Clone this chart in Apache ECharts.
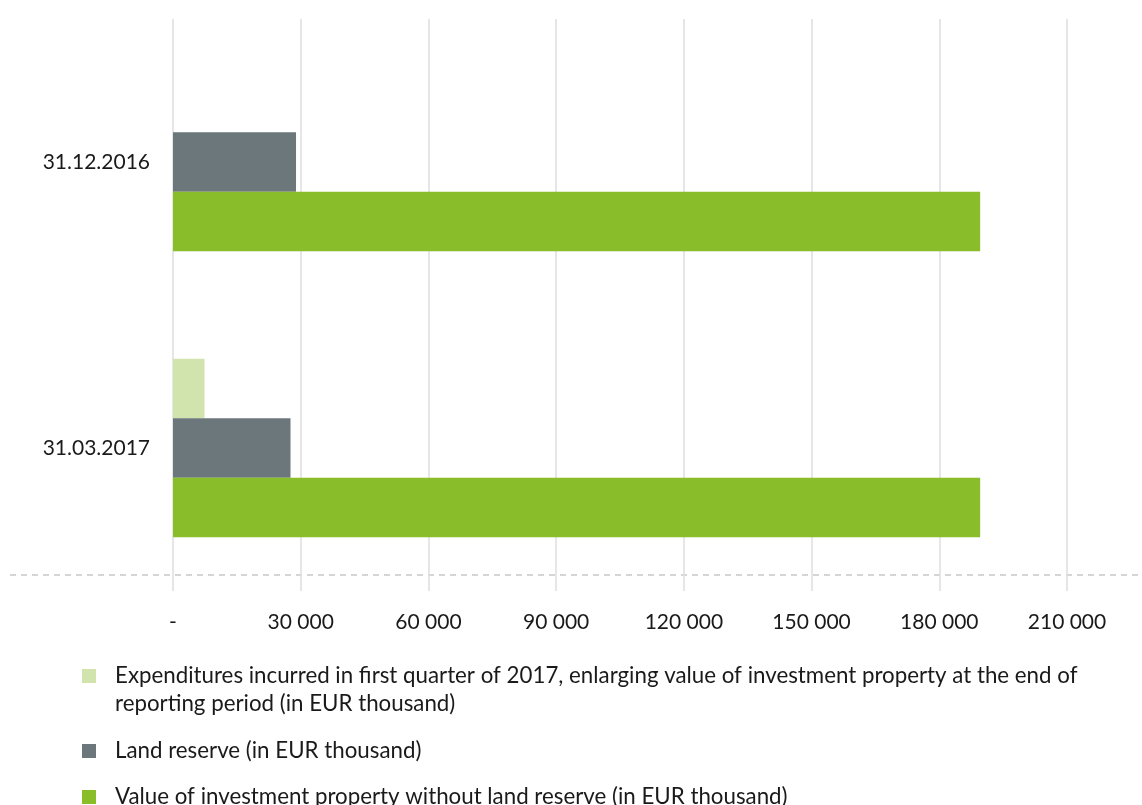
<!DOCTYPE html>
<html>
<head>
<meta charset="utf-8">
<script src="https://cdn.jsdelivr.net/npm/echarts@6/dist/echarts.min.js"></script>
<style>
  html, body { margin: 0; padding: 0; background: #fff; }
  #chart { width: 1142px; height: 805px; }
</style>
</head>
<body>
<div id="chart"></div>
<script>
  // data (EUR thousand)
  var categories = ['31.12.2016', '31.03.2017']
  var seriesNames = [
    'Expenditures incurred in first quarter of 2017, enlarging value of investment property at the end of reporting period (in EUR thousand)',
    'Land reserve (in EUR thousand)',
    'Value of investment property without land reserve (in EUR thousand)'
  ]
  var expenditures = [null, 7400]
  var landReserve = [28900, 27600]
  var propertyValue = [189600, 189600]
  var colors = ['#d2e4ad', '#6b777b', '#89bd2a']

  var font = 'Lato'
  var chart = echarts.init(document.getElementById('chart'))

  function fmt(v) {
    if (v === 0) return '-'
    return String(v).replace(/\B(?=(\d{3})+(?!\d))/g, ' ')
  }

  function bar(name, data, color) {
    return {
      name: name,
      type: 'bar',
      data: data,
      barWidth: 59.5,
      barGap: '0%',
      itemStyle: { color: color },
      emphasis: { disabled: true },
      animation: false
    }
  }

  var legendText = {
    fontSize: 22.3,
    lineHeight: 28,
    color: '#1a1a1a',
    fontFamily: font,
    width: 990,
    overflow: 'break',
    padding: [0, 0, 0, 14]
  }

  // one legend block per entry so each one sits where the reference has it
  function legendItem(name, top, icon, h) {
    return {
      orient: 'vertical',
      left: 82,
      top: top,
      padding: 0,
      itemWidth: 14,
      itemHeight: h,
      icon: icon,
      selectedMode: false,
      textStyle: legendText,
      data: [name]
    }
  }

  chart.setOption({
    textStyle: { fontFamily: font },
    grid: { left: 173, right: 75, top: 19, bottom: 214, containLabel: false },
    xAxis: {
      type: 'value',
      min: 0,
      max: 210000,
      interval: 30000,
      axisLine: { show: false },
      axisTick: { show: false },
      splitLine: { show: true, lineStyle: { color: '#dedede', width: 1.5 } },
      axisLabel: {
        margin: 21,
        fontSize: 21,
        color: '#1a1a1a',
        fontFamily: font,
        formatter: fmt
      }
    },
    yAxis: {
      type: 'category',
      inverse: true,
      data: categories,
      axisLine: { show: false },
      axisTick: { show: false },
      splitLine: { show: false },
      axisLabel: { margin: 23, fontSize: 21, color: '#1a1a1a', fontFamily: font }
    },
    legend: [
      // first entry wraps on two lines, square sits next to the first line
      legendItem(seriesNames[0], 662, 'path://M0,0H14V14H0Z M0,42H0.01', 42),
      legendItem(seriesNames[1], 737, 'rect', 14),
      legendItem(seriesNames[2], 783, 'rect', 14)
    ],
    graphic: [{
      type: 'line',
      shape: { x1: 10, y1: 575, x2: 1142, y2: 575 },
      style: { stroke: '#c8c8c8', lineWidth: 1.5, lineDash: [6, 5] },
      silent: true
    }],
    series: [
      bar(seriesNames[0], expenditures, colors[0]),
      bar(seriesNames[1], landReserve, colors[1]),
      bar(seriesNames[2], propertyValue, colors[2])
    ]
  })
</script>
</body>
</html>
